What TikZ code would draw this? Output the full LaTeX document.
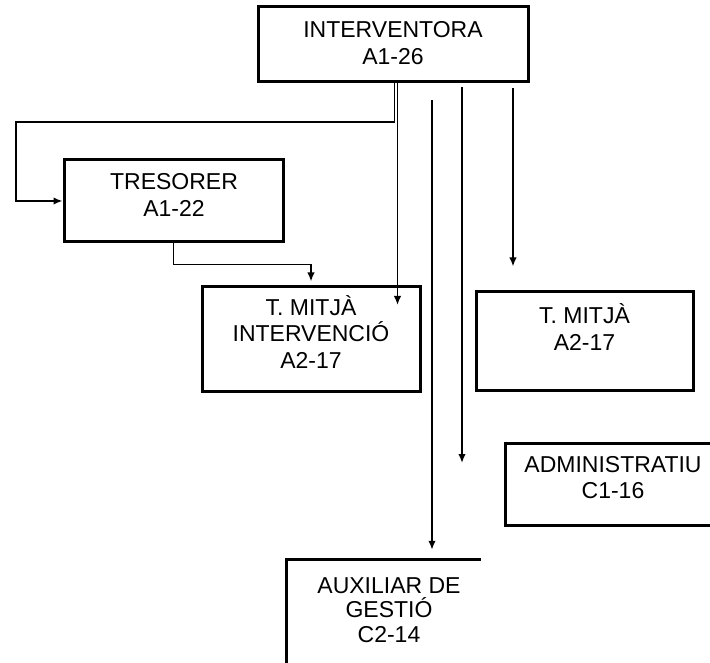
\documentclass[tikz,border=0pt]{standalone}
\usepackage{fontspec}
\setmainfont{Liberation Sans}
\usetikzlibrary{arrows.meta,calc,positioning}

\begin{document}
\begin{tikzpicture}[x=1pt, y=-1pt, >={Latex[length=9pt, width=7.5pt]},
    box/.style={draw, line width=3pt, inner sep=0pt},
    txt/.style={align=center, anchor=base, inner sep=0pt,
      font=\fontsize{23}{27}\selectfont},
    link/.style={line width=1.7pt}]

      \useasboundingbox (0,0) rectangle (710,663);
      \clip (0,0) rectangle (710,663);

      % boxes
      \node [box, minimum width=270pt, minimum height=75pt, name=interv] at (393,44.5) {};
      \node [box, minimum width=219pt, minimum height=82pt, name=tres] at (173.5,201) {};
      \node [box, minimum width=218pt, minimum height=104pt, name=tmint] at (311,339) {};
      \node [box, minimum width=217pt, minimum height=98pt, name=tmit] at (584.5,341) {};
      \node [box, minimum width=217pt, minimum height=82pt, name=admin] at (613.5,484) {};
      \node [inner sep=0pt, minimum width=194pt, minimum height=140pt, name=aux] at (384,630) {};
      \draw [line width=3pt] (aux.south west) |- (aux.north east);

      % texts (base = last line)
      \node [txt, name=intervtext] at (393,65) {INTERVENTORA\\A1-26};
      \node [txt, name=trestext] at (174,217) {TRESORER\\A1-22};
      \node [txt, name=tminttext, font=\fontsize{23}{26.5}\selectfont] at (311,368)
      {T. MITJÀ\\INTERVENCIÓ\\A2-17};
      \node [txt, name=tmittext] at (584.5,350) {T. MITJÀ\\A2-17};
      \node [txt, name=admintext, font=\fontsize{23}{26}\selectfont] at (613,498)
      {ADMINISTRATIU\\C1-16};
      \node [txt, name=auxtext, font=\fontsize{23}{24.5}\selectfont] at (389,642)
      {AUXILIAR DE\\GESTIÓ\\C2-14};

      % connectors
      \coordinate (split) at (394.5,122);
      \coordinate (bend) at (16,122);
      \draw [->, link] (interv.south -| split) -- (split) -- (bend) |- (tres.west);

      \coordinate (mainend) at (397.5,305);
      \draw [->, link] (interv.south -| mainend) -- (mainend);

      \draw [->, link, shorten >=4pt] (tres.south) -- ++(0,21) -| (tmint.north);

      \coordinate (auxtop) at (432,100);
      \draw [->, link, shorten >=10pt] (auxtop) -- (auxtop |- aux.north);

      \coordinate (admtop) at (462,87);
      \coordinate (admend) at (462,463);
      \draw [->, link] (admtop) -- (admend);

      \coordinate (tmtop) at (513,88);
      \draw [->, link, shorten >=24pt] (tmtop) -- (tmtop |- tmit.north);
\end{tikzpicture}
\end{document}
